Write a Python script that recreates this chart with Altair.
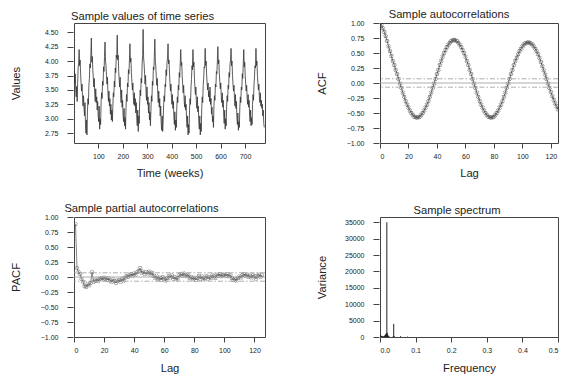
import altair as alt
import pandas as pd

# ---------------- data ----------------
# time series, one value every 2 weeks, weeks 1..779
ts_pre = [3.85, 3.62, 3.78, 3.50, 3.38, 3.56, 3.30, 3.62, 3.88, 3.98]
ts_c01 = [4.20, 3.92, 4.02, 3.78, 3.62, 3.48, 3.60, 3.35, 3.22, 3.40, 3.18, 3.05, 3.28, 2.90, 2.75, 2.98, 2.72, 3.10, 3.35, 3.25, 3.58, 3.70, 3.95, 3.88, 4.10]
ts_c02 = [4.40, 3.98, 4.08, 3.85, 3.72, 3.55, 3.70, 3.42, 3.30, 3.52, 3.28, 3.38, 3.15, 3.30, 3.05, 2.95, 3.22, 2.82, 3.00, 2.90, 3.30, 3.45, 3.35, 3.65, 3.58, 3.90, 3.82, 4.08]
ts_c03 = [4.33, 4.00, 3.92, 3.75, 3.60, 3.72, 3.45, 3.30, 3.48, 3.22, 3.35, 3.08, 3.25, 2.98, 3.15, 2.95, 3.20, 3.45, 3.38, 3.65, 3.55, 3.88, 3.80, 4.10, 4.05]
ts_c04 = [4.45, 4.02, 4.10, 3.82, 3.68, 3.55, 3.72, 3.40, 3.28, 3.50, 3.20, 3.32, 3.05, 2.95, 3.18, 2.88, 3.02, 2.82, 3.20, 3.42, 3.30, 3.62, 3.55, 3.85, 3.78, 4.02]
ts_c05 = [4.30, 3.98, 4.05, 3.80, 3.65, 3.50, 3.62, 3.38, 3.25, 3.45, 3.22, 3.35, 3.10, 3.28, 3.00, 2.88, 3.15, 2.78, 3.05, 2.92, 3.30, 3.50, 3.40, 3.70, 3.62, 3.95, 4.10]
ts_c06 = [4.55, 4.05, 3.95, 3.78, 3.60, 3.75, 3.45, 3.32, 3.55, 3.25, 3.38, 3.10, 3.28, 2.98, 3.12, 2.88, 3.15, 3.40, 3.30, 3.65, 3.58, 3.90, 3.85, 4.08]
ts_c07 = [4.38, 4.00, 3.90, 3.72, 3.58, 3.70, 3.42, 3.28, 3.48, 3.20, 3.35, 3.05, 3.22, 2.92, 2.80, 3.05, 2.78, 2.95, 3.25, 3.40, 3.30, 3.60, 3.55, 3.85, 3.75, 3.98, 4.05]
ts_c08 = [4.30, 3.95, 4.02, 3.78, 3.62, 3.48, 3.60, 3.35, 3.25, 3.42, 3.18, 3.30, 3.02, 2.90, 3.12, 2.80, 2.98, 2.85, 3.20, 3.38, 3.28, 3.58, 3.50, 3.80, 3.72, 3.98]
ts_c09 = [4.20, 3.92, 3.98, 3.75, 3.58, 3.45, 3.58, 3.32, 3.20, 3.40, 3.15, 3.25, 2.98, 2.85, 3.05, 2.72, 2.90, 2.75, 3.15, 3.35, 3.25, 3.55, 3.68, 3.92, 3.85]
ts_c10 = [4.20, 3.90, 3.98, 3.72, 3.55, 3.42, 3.55, 3.30, 3.18, 3.38, 3.12, 3.22, 2.95, 2.82, 3.05, 2.72, 2.92, 2.78, 3.18, 3.38, 3.28, 3.58, 3.70, 3.90, 3.88]
ts_c11 = [4.22, 3.92, 4.00, 3.76, 3.62, 3.50, 3.62, 3.38, 3.48, 3.30, 3.55, 3.25, 3.35, 3.08, 3.20, 2.95, 3.05, 2.85, 3.22, 3.40, 3.32, 3.60, 3.55, 3.82, 3.78, 4.00]
ts_c12 = [4.25, 3.95, 4.02, 3.78, 3.65, 3.52, 3.62, 3.38, 3.28, 3.45, 3.20, 3.32, 3.05, 2.92, 3.15, 2.82, 3.00, 2.88, 3.22, 3.40, 3.30, 3.58, 3.52, 3.80, 3.72, 3.95, 4.02]
ts_c13 = [4.22, 3.92, 4.00, 3.75, 3.60, 3.48, 3.58, 3.35, 3.22, 3.42, 3.18, 3.30, 3.02, 2.90, 3.10, 2.80, 2.95, 2.85, 3.20, 3.38, 3.28, 3.55, 3.50, 3.78, 3.70, 3.95]
ts_c14 = [4.20, 3.90, 3.98, 3.75, 3.60, 3.48, 3.58, 3.35, 3.25, 3.42, 3.20, 3.32, 3.05, 2.95, 3.15, 2.88, 3.02, 2.90, 3.25, 3.42, 3.32, 3.60, 3.72, 3.92, 3.88]
ts_c15 = [4.22, 3.92, 4.00, 3.75, 3.62, 3.50, 3.60, 3.38, 3.28, 3.45, 3.22, 3.32, 3.18, 3.25, 3.05, 3.15, 2.92, 2.85]

ts_values = (ts_pre + ts_c01 + ts_c02 + ts_c03 + ts_c04 + ts_c05 + ts_c06 + ts_c07
             + ts_c08 + ts_c09 + ts_c10 + ts_c11 + ts_c12 + ts_c13 + ts_c14 + ts_c15)
ts_weeks = [1 + 2 * i for i in range(len(ts_values))]

# sample autocorrelations, lags 0..125
acf_values = [
    1.00, 0.96, 0.91, 0.85, 0.78, 0.70, 0.61, 0.53, 0.45, 0.37,
    0.30, 0.22, 0.15, 0.07, -0.01, -0.08, -0.16, -0.23, -0.30, -0.36,
    -0.41, -0.46, -0.50, -0.53, -0.56, -0.57, -0.58, -0.57, -0.56, -0.53,
    -0.50, -0.46, -0.41, -0.36, -0.30, -0.23, -0.16, -0.08, -0.01, 0.07,
    0.15, 0.22, 0.30, 0.37, 0.44, 0.50, 0.55, 0.60, 0.64, 0.67,
    0.70, 0.71, 0.72, 0.71, 0.70, 0.67, 0.64, 0.60, 0.55, 0.50,
    0.44, 0.37, 0.30, 0.22, 0.15, 0.07, -0.01, -0.08, -0.16, -0.23,
    -0.30, -0.36, -0.41, -0.46, -0.50, -0.53, -0.56, -0.57, -0.58, -0.57,
    -0.56, -0.53, -0.50, -0.46, -0.41, -0.36, -0.30, -0.23, -0.16, -0.08,
    -0.01, 0.07, 0.15, 0.22, 0.30, 0.37, 0.42, 0.48, 0.53, 0.57,
    0.61, 0.64, 0.66, 0.67, 0.68, 0.67, 0.66, 0.64, 0.61, 0.57,
    0.53, 0.48, 0.42, 0.35, 0.28, 0.21, 0.14, 0.07, -0.01, -0.08,
    -0.15, -0.22, -0.28, -0.34, -0.39, -0.44,
]
acf_lags = list(range(len(acf_values)))

# sample partial autocorrelations, lags 1..125
pacf_values = [
    0.88, 0.15, 0.08, 0.05, -0.03, -0.08, -0.15, -0.17, -0.12, -0.14,
    -0.10, 0.08, -0.08, -0.06, -0.04, -0.07, -0.03, -0.02, -0.04, -0.01,
    -0.03, -0.05, -0.02, -0.06, -0.08, -0.04, -0.07, -0.10, -0.06, -0.05,
    -0.08, -0.03, -0.06, -0.01, 0.02, 0.00, 0.03, 0.05, 0.02, 0.06,
    0.04, 0.08, 0.10, 0.15, 0.07, 0.09, 0.05, 0.08, 0.06, 0.09,
    0.04, 0.07, 0.02, -0.02, 0.01, -0.04, -0.01, -0.05, 0.00, -0.03,
    -0.06, -0.02, 0.02, -0.01, 0.03, -0.03, 0.00, -0.04, -0.02, 0.03,
    0.05, 0.02, 0.06, 0.03, 0.01, 0.04, -0.02, 0.00, -0.04, -0.01,
    -0.05, -0.02, 0.02, -0.03, 0.01, -0.04, -0.02, 0.02, -0.03, 0.00,
    -0.02, 0.03, 0.01, -0.02, 0.04, 0.02, 0.05, 0.01, 0.03, 0.04,
    0.02, 0.05, 0.01, 0.03, -0.02, -0.05, -0.03, -0.06, -0.02, 0.01,
    -0.01, 0.03, 0.05, 0.02, 0.04, 0.00, 0.02, -0.01, 0.03, 0.01,
    -0.03, 0.02, 0.04, 0.00, 0.03,
]
pacf_lags = list(range(1, len(pacf_values) + 1))

# confidence band and zero line
band_levels = [0.07, -0.07]
zero_level = [0.0]

# sample spectrum (frequencies with visible power)
spec_freq = [0.0013, 0.0026, 0.0038, 0.0051, 0.0064, 0.0077, 0.0090, 0.0103, 0.0115, 0.0128,
             0.0141, 0.0154, 0.0167, 0.0179, 0.0192, 0.0205, 0.0218, 0.0231, 0.0244, 0.0256,
             0.0372, 0.0385, 0.0397, 0.0577, 0.0769]
spec_power = [600, 450, 300, 250, 200, 180, 150, 200, 250, 400,
              500, 700, 900, 1200, 35000, 1300, 700, 400, 250, 150,
              250, 4000, 300, 250, 120]

# ---------------- chart ----------------
FONT = "Liberation Sans"
TXT = "#222222"
LBL = 7
TTL = 11.2


def yaxis(title, values, fmt):
    return alt.Axis(title=title, values=values, format=fmt, titleX=-57, titleY=60,
                    titleAngle=-90, titleBaseline="middle", titleAlign="center",
                    titleFontWeight="normal", labelOverlap=False)


def xaxis(title, values, fmt, ty=24):
    return alt.Axis(title=title, values=values, format=fmt, titleY=ty,
                    titleFontWeight="normal", labelOverlap=False)


def ptitle(text, dx, dy):
    return alt.TitleParams(text=text, dx=dx, dy=dy, anchor="middle", fontSize=TTL,
                           font=FONT, color=TXT, fontWeight="normal", offset=1)


H = 120
WL = 191
WR = 178

# Panel 1: time series
ts_df = pd.DataFrame({"week": ts_weeks, "value": ts_values})
p1 = alt.Chart(ts_df).mark_line(color="#333333", strokeWidth=0.8, clip=True).encode(
    x=alt.X("week:Q", scale=alt.Scale(domain=[0, 782], nice=False, zero=False),
            axis=xaxis("Time (weeks)", [100, 200, 300, 400, 500, 600, 700], "d")),
    y=alt.Y("value:Q", scale=alt.Scale(domain=[2.58, 4.66], nice=False, zero=False),
            axis=yaxis("Values", [2.75, 3.0, 3.25, 3.5, 3.75, 4.0, 4.25, 4.5], ".2f")),
).properties(width=WL, height=H, title=ptitle("Sample values of time series", -27, 0))

corr_ticks = [-1.0, -0.75, -0.5, -0.25, 0.0, 0.25, 0.5, 0.75, 1.0]
band_df = pd.DataFrame({"level": band_levels})
zero_df = pd.DataFrame({"level": zero_level})


def corr_panel(df, field, title, lag_max, width, main_title, dx, line_col, pt_col, ty):
    scale_y = alt.Scale(domain=[-1, 1], nice=False)
    ax_y = yaxis(title, corr_ticks, ".2f")
    x_enc = alt.X("lag:Q", scale=alt.Scale(domain=[0, lag_max], nice=False),
                  axis=xaxis("Lag", [0, 20, 40, 60, 80, 100, 120], "d", ty))
    y_enc = alt.Y(field + ":Q", scale=scale_y, axis=ax_y)
    line = alt.Chart(df).mark_line(color=line_col, strokeWidth=0.8, clip=True).encode(x=x_enc, y=y_enc)
    pts = alt.Chart(df).mark_point(shape="cross", angle=45, size=14, color=pt_col,
                                   strokeWidth=0.7, clip=True).encode(x=x_enc, y=y_enc)
    band = alt.Chart(band_df).mark_rule(color="#999999", strokeWidth=0.8,
                                        strokeDash=[5, 2, 1.5, 2]).encode(
        y=alt.Y("level:Q", scale=scale_y, axis=ax_y))
    zero = alt.Chart(zero_df).mark_rule(color="#999999", strokeWidth=0.8).encode(
        y=alt.Y("level:Q", scale=scale_y, axis=ax_y))
    return alt.layer(line, pts, band, zero).properties(
        width=width, height=H, title=ptitle(main_title, dx, 2))


acf_df = pd.DataFrame({"lag": acf_lags, "acf": acf_values})
p2 = corr_panel(acf_df, "acf", "ACF", 125, WR, "Sample autocorrelations", -20,
                "#555555", "#333333", 24)

pacf_df = pd.DataFrame({"lag": pacf_lags, "pacf": pacf_values})
p3 = corr_panel(pacf_df, "pacf", "PACF", 127, WL, "Sample partial autocorrelations", -28,
                "#666666", "#555555", 25)

# Panel 4: spectrum
spec_df = pd.DataFrame({"freq": spec_freq, "power": spec_power})
p4 = alt.Chart(spec_df).mark_rule(color="#222222", strokeWidth=1, clip=True).encode(
    x=alt.X("freq:Q", scale=alt.Scale(domain=[0, 0.5], nice=False),
            axis=xaxis("Frequency", [0.0, 0.1, 0.2, 0.3, 0.4, 0.5], ".1f", 25)),
    y=alt.Y("power:Q", scale=alt.Scale(domain=[0, 36600], nice=False),
            axis=yaxis("Variance", [0, 5000, 10000, 15000, 20000, 25000, 30000, 35000], "d")),
    y2=alt.datum(0),
).properties(width=WR, height=H, title=ptitle("Sample spectrum", -12, 0))

chart = alt.concat(p1, p2, p3, p4, columns=2, align="each",
                   spacing={"row": 23, "column": 49}).properties(
    padding={"left": 1, "top": 0, "right": 0, "bottom": 0},
    background="white",
).configure_view(
    stroke="#444444", strokeWidth=1
).configure_axis(
    grid=False, domain=False, ticks=True, tickColor="#444444", tickSize=5,
    labelFont=FONT, labelFontSize=LBL, labelColor=TXT,
    titleFont=FONT, titleFontSize=TTL, titleColor=TXT, titleFontWeight="normal",
).configure_axisLeft(
    labelPadding=9, tickSize=6, offset=1
).configure_axisBottom(
    labelPadding=4
)

chart.save("out.html", embed_options={"renderer": "svg", "actions": False})
